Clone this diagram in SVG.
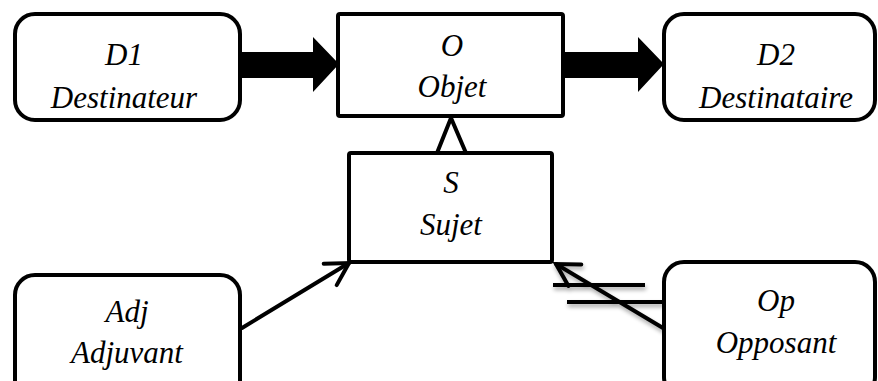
<svg xmlns="http://www.w3.org/2000/svg" width="878" height="381" viewBox="0 0 878 381">
  <style>
    .box { fill: #ffffff; stroke: #000000; stroke-width: 4; }
    .lbl { fill: #000000; text-anchor: middle; font-family: "Liberation Serif", "Times New Roman", serif; font-size: 31px; font-style: italic; }
    .conn { stroke: #000000; stroke-width: 4; fill: none; stroke-linecap: round; }
    .bar { stroke: #000000; stroke-width: 4; fill: none; }
  </style>
  <defs>
    <marker id="openV" viewBox="-30 -16 34 32" markerWidth="34" markerHeight="32" refX="0" refY="0" orient="auto" markerUnits="userSpaceOnUse">
      <path d="M-22,-12.5 L0,0 L-22,12.5" fill="none" stroke="#000000" stroke-width="4" stroke-linecap="round" stroke-linejoin="miter"/>
    </marker>
    <filter id="shadow" x="-20%" y="-50%" width="140%" height="200%">
      <feGaussianBlur in="SourceAlpha" stdDeviation="2"/>
      <feOffset dx="1" dy="3" result="b"/>
      <feComponentTransfer><feFuncA type="linear" slope="0.35"/></feComponentTransfer>
      <feMerge><feMergeNode/><feMergeNode in="SourceGraphic"/></feMerge>
    </filter>
  </defs>
  <rect x="0" y="0" width="878" height="381" fill="#ffffff"/>

  <g id="connectors">
    <polygon id="arrow-d1-o" points="240,52 313,52 313,37 339,64 313,92 313,78 240,78" fill="#000000"/>
    <polygon id="arrow-o-d2" points="564,52 638,52 638,37 664,64 638,92 638,78 564,78" fill="#000000"/>
    <path id="arrow-s-o" d="M437,153 L451,118 L466,153" fill="#ffffff" stroke="#000000" stroke-width="4" stroke-linejoin="miter"/>
    <line id="arrow-adj-s" class="conn" x1="242" y1="328" x2="349" y2="263" marker-end="url(#openV)"/>
    <g id="arrow-op-s" filter="url(#shadow)">
      <line class="conn" x1="663" y1="328" x2="556" y2="264" marker-end="url(#openV)"/>
      <line class="bar" x1="553" y1="285" x2="645" y2="285"/>
      <line class="bar" x1="567" y1="302" x2="663" y2="302"/>
    </g>
  </g>

  <g id="node-d1">
    <rect class="box" x="15" y="14" width="225" height="106" rx="20" ry="20"/>
    <text class="lbl" x="124" y="65">D1</text>
    <text class="lbl" x="124" y="108">Destinateur</text>
  </g>
  <g id="node-o">
    <rect class="box" x="338" y="14" width="225" height="102" rx="2"/>
    <text class="lbl" x="452" y="56">O</text>
    <text class="lbl" x="452" y="97">Objet</text>
  </g>
  <g id="node-d2">
    <rect class="box" x="664" y="14" width="211" height="106" rx="20" ry="20"/>
    <text class="lbl" x="776" y="65">D2</text>
    <text class="lbl" x="776" y="108">Destinataire</text>
  </g>
  <g id="node-s">
    <rect class="box" x="349" y="153" width="203" height="109" rx="2"/>
    <text class="lbl" x="451" y="193">S</text>
    <text class="lbl" x="451" y="235">Sujet</text>
  </g>
  <g id="node-adj">
    <rect class="box" x="15" y="275" width="225" height="125" rx="20" ry="20"/>
    <text class="lbl" x="127" y="322">Adj</text>
    <text class="lbl" x="127" y="363">Adjuvant</text>
  </g>
  <g id="node-op">
    <rect class="box" x="664" y="262" width="211" height="135" rx="20" ry="20"/>
    <text class="lbl" x="776" y="311">Op</text>
    <text class="lbl" x="776" y="353">Opposant</text>
  </g>
</svg>
